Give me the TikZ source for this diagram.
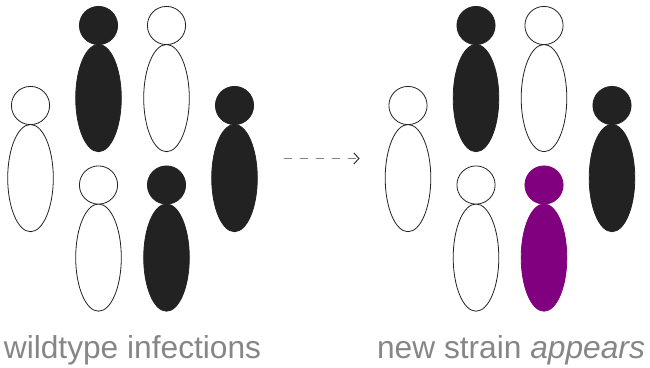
\documentclass[tikz,border=0pt]{standalone}
\usepackage{fontspec}
\setmainfont{Liberation Sans}
\usetikzlibrary{arrows.meta}
\definecolor{dk}{HTML}{222222}
\definecolor{pur}{HTML}{800080}
\tikzset{x=1pt,y=-1pt,
 wh/.style={draw=dk,fill=white,line width=0.8pt},
 bl/.style={draw=dk,fill=dk,line width=0.8pt},
 pu/.style={draw=pur,fill=pur,line width=0.8pt},
 lab/.style={text=gray!95,font=\fontsize{31.7}{32}\selectfont,anchor=base}}
\newcommand{\fig}[3]{%
 \draw[#3] (#1,#2+72.6) ellipse [x radius=22.8,y radius=53.6];
 \draw[#3] (#1,#2) circle [radius=19.1];}
\begin{document}
\begin{tikzpicture}
\useasboundingbox (0,0) rectangle (650,367);
\fig{30.5}{105.5}{wh}
\fig{98.5}{25.5}{bl}
\fig{166.5}{25.5}{wh}
\fig{98.5}{185}{wh}
\fig{166.5}{185}{bl}
\fig{234.5}{105.5}{bl}
\fig{408}{105.5}{wh}
\fig{476}{25.5}{bl}
\fig{544}{25.5}{wh}
\fig{476}{185}{wh}
\fig{544}{185}{pu}
\fig{612}{105.5}{bl}
\coordinate (s) at (283.5,158.5);
\coordinate (e) at (359.5,158.5);
\draw[draw=gray,line width=1.2pt,dash pattern=on 8.2pt off 7.8pt,-{Straight Barb[length=5pt,width=11pt,color=dk,line width=0.9pt]}] (s) -- (e);
\node[lab] (l1) at (132.5,358) {wildtype infections};
\node[lab] (l2) at (511,358) {new strain \textit{appears}};
\end{tikzpicture}
\end{document}
